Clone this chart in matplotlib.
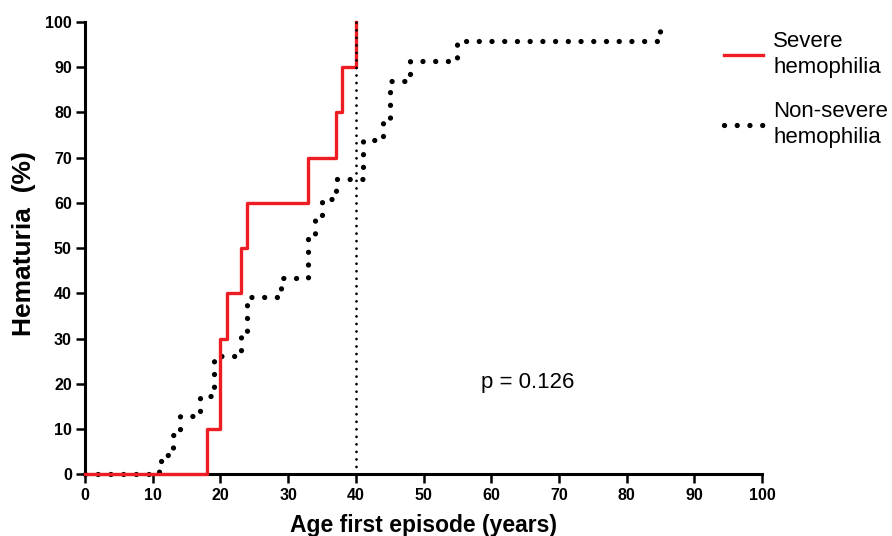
import numpy as np
import matplotlib
matplotlib.use("Agg")
import matplotlib.pyplot as plt

# severe hemophilia: age of first episode (years) vs cumulative % with hematuria
severe_age = [0, 18, 20, 21, 23, 24, 33, 37, 38, 40]
severe_pct = [0, 10, 30, 40, 50, 60, 70, 80, 90, 100]

# non-severe hemophilia
nonsev_age = [0, 11, 12, 13, 14, 17, 19, 23, 24, 29, 33, 34, 35, 37, 41, 44, 45, 48, 55, 85]
nonsev_pct = [0, 2.9, 4.3, 8.6, 12.9, 17.4, 26.1, 31.2, 39.1, 43.5, 52.5, 56.5, 60.8, 65.2,
              73.9, 78.3, 87.0, 91.3, 95.7, 100]

median_age = 40
p_text = "p = 0.126"

xticks = np.arange(0, 101, 10)
yticks = np.arange(0, 101, 10)

plt.rcParams['font.family'] = ['Liberation Sans', 'DejaVu Sans']

fig = plt.figure(figsize=(8.92, 5.36), dpi=100)
ax = fig.add_axes([0.0953, 0.1151, 0.7590, 0.8439])

ax.step(nonsev_age, nonsev_pct, where='post', color='black', lw=3.8,
        linestyle=(0, (0.01, 2.4)), dash_capstyle='round', clip_on=False, zorder=3,
        label='Non-severe\nhemophilia')
ax.step(severe_age, severe_pct, where='post', color='#ee1d23', lw=2.4,
        clip_on=False, zorder=4, label='Severe\nhemophilia')
ax.plot([median_age, median_age], [0, 100], color='black', lw=2.0,
        linestyle=(0, (0.01, 2.7)), dash_capstyle='round', clip_on=False, zorder=5)

ax.set_xlim(0, 100)
ax.set_ylim(0, 100)
ax.set_xticks(xticks)
ax.set_yticks(yticks)

for side in ['top', 'right']:
    ax.spines[side].set_visible(False)
for side in ['left', 'bottom']:
    ax.spines[side].set_linewidth(2.2)

ax.tick_params(direction='out', length=6.5, width=1.8, pad=3, labelsize=11.5)
for lab in ax.get_xticklabels() + ax.get_yticklabels():
    lab.set_fontweight('bold')

ax.set_xlabel('Age first episode (years)', fontsize=16.5, fontweight='bold')
ax.set_ylabel('Hematuria  (%)', fontsize=19, fontweight='bold')
ax.xaxis.set_label_coords(0.5, -0.087)
ax.yaxis.set_label_coords(-0.072, 0.51)

ax.text(65.4, 20.4, p_text, fontsize=16, ha='center', va='center')

handles, labels = ax.get_legend_handles_labels()
leg = ax.legend(handles[::-1], labels[::-1], loc='upper left', bbox_to_anchor=(0.944, 0.98),
                frameon=False, fontsize=16, handlelength=1.75, handletextpad=0.45,
                labelspacing=1.05, borderpad=0, borderaxespad=0)
for t in leg.get_texts():
    t.set_linespacing(1.3)

fig.savefig('out.png', dpi=100)
